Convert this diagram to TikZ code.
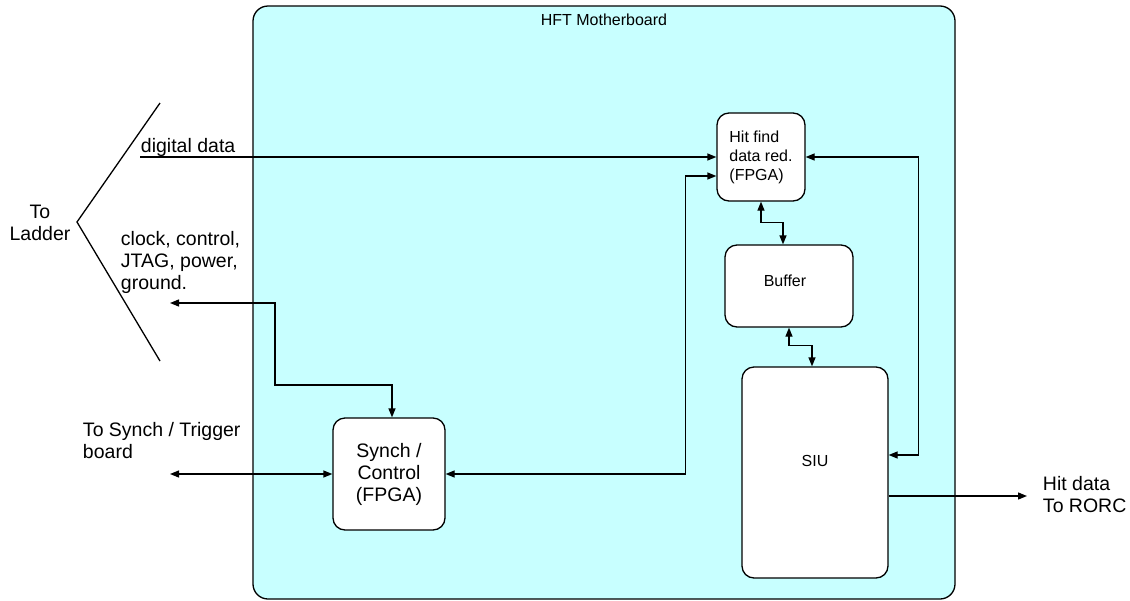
\documentclass[tikz,border=0pt]{standalone}
\usepackage{fontspec}
\setmainfont{Liberation Sans}
\usetikzlibrary{arrows.meta, positioning, calc}
\definecolor{cboard}{HTML}{C8FFFF}
\definecolor{cline}{HTML}{000000}
\tikzset{
  every picture/.style={line width=1.3pt},
  big/.style={font=\fontsize{19.5}{22}\selectfont},
  small/.style={font=\fontsize{16}{19}\selectfont},
  blk/.style={draw, fill=white, rounded corners=12pt, align=center, inner sep=0pt},
  arr/.style={-{Triangle[length=9pt, width=7pt]}, draw=cline},
  dbl/.style={{Triangle[length=9pt, width=7pt]}-{Triangle[length=9pt, width=7pt]}, draw=cline},
}
\begin{document}
\begin{tikzpicture}[x=1pt, y=-1pt]
  \useasboundingbox (0,0) rectangle (1130,600);

  % board
  \draw[fill=cboard, rounded corners=15pt] (253,6) rectangle (955,599);
  \node[small] (title) at (604,20) {HFT Motherboard};

  % blocks
  \node[blk, small, align=left, minimum width=88pt, minimum height=88pt] (hit) at (761,157) {Hit find\\data red.\\(FPGA)};
  \node[blk, minimum width=128pt, minimum height=82pt, label={[small, xshift=-4pt, yshift=5pt]center:Buffer}] (buf) at (789,286) {};
  \node[blk, minimum width=146pt, minimum height=211pt, label={[small, yshift=12pt]center:SIU}] (siu) at (815,472.5) {};
  \node[blk, big, minimum width=112pt, minimum height=112pt] (sync) at (389,474) {Synch /\\Control\\(FPGA)};

  % ladder side
  \draw (160,103) -- (77,222) -- (160,361);
  \node[big, align=center] (ladder) at (40,223) {To\\Ladder};
  \node[big, anchor=west] (ddlab) at (137,147) {digital data};
  \node[big, anchor=west, align=left] (clklab) at (117,262) {clock, control,\\JTAG, power,\\ground.};
  \node[big, anchor=west, align=left] (trglab) at (79,441) {To Synch / Trigger\\board};
  \node[big, anchor=west, align=left] (rorclab) at (1039,495) {Hit data\\To RORC};
  \coordinate (dd) at (140,157);
  \coordinate (clk) at (170,303);
  \coordinate (trg) at (170,474);
  \coordinate (rorc) at (1027,496);

  % links
  \draw[arr] (dd) -- (hit.west);
  \draw[dbl] (sync.east) -- ++(240,0) |- ([yshift=-19pt]hit.west);
  \draw[dbl] (hit.east) -- ++(113,0) |- ([yshift=17.5pt]siu.east);
  \draw[dbl] (hit.south) -- ++(0,21) -| ([xshift=-6pt]buf.north);
  \draw[dbl] (buf.south) -- ++(0,18) -| ([xshift=-3pt]siu.north);
  \draw[dbl] (clk) -- ++(105,0) -- ++(0,82) -| ([xshift=3pt]sync.north);
  \draw[dbl] (trg) -- (sync.west);
  \draw[arr] (siu.east |- rorc) -- (rorc);
\end{tikzpicture}
\end{document}
